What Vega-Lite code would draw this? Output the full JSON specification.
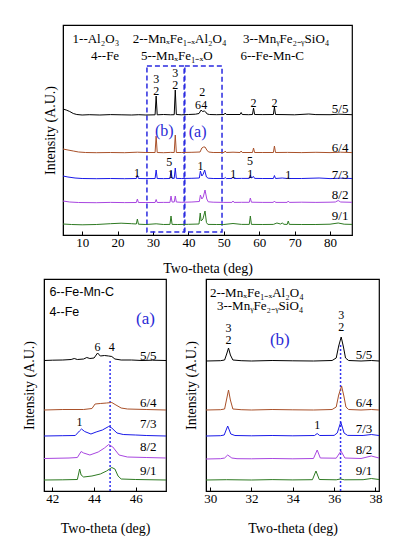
{
  "$schema": "https://vega.github.io/schema/vega-lite/v6.json",
  "background": "white",
  "padding": {"left": 21, "top": 22, "right": 4, "bottom": 4},
  "spacing": 2,
  "config": {
    "view": {"stroke": "#000", "strokeWidth": 1.2},
    "axis": {"grid": false, "domainColor": "#000", "tickColor": "#000", "labelColor": "#000", "titleColor": "#000", "labelFont": "Liberation Serif", "titleFont": "Liberation Serif", "titleFontWeight": "normal", "labelFontSize": 13, "titleFontSize": 14},
    "axisY": {"labels": false, "ticks": false, "titlePadding": 8},
    "axisX": {"tickSize": -4, "labelPadding": 5, "titlePadding": 12, "labelFlush": false},
    "text": {"font": "Liberation Serif", "fontSize": 13, "color": "#000"},
    "line": {"strokeWidth": 1}
  },
  "datasets": {
    "top": [
      {"s":"5/5","x":4.6,"y":126},{"s":"5/5","x":5.5,"y":125},{"s":"5/5","x":6.5,"y":123.5},{"s":"5/5","x":7.5,"y":121.5},{"s":"5/5","x":8.5,"y":120.5},{"s":"5/5","x":10,"y":120},{"s":"5/5","x":12,"y":120.3},{"s":"5/5","x":15,"y":120},{"s":"5/5","x":18,"y":120.4},{"s":"5/5","x":21,"y":120.2},{"s":"5/5","x":24,"y":120},{"s":"5/5","x":26,"y":120.3},{"s":"5/5","x":28,"y":120},{"s":"5/5","x":30.6,"y":120.2},{"s":"5/5","x":30.9,"y":139},{"s":"5/5","x":31.2,"y":120.2},{"s":"5/5","x":33,"y":120.5},{"s":"5/5","x":35,"y":120.2},{"s":"5/5","x":36.0,"y":120.3},{"s":"5/5","x":36.3,"y":145},{"s":"5/5","x":36.6,"y":120.5},{"s":"5/5","x":38,"y":120.2},{"s":"5/5","x":40,"y":120.5},{"s":"5/5","x":42,"y":120.8},{"s":"5/5","x":43.0,"y":121.5},{"s":"5/5","x":43.6,"y":125},{"s":"5/5","x":44.0,"y":123.5},{"s":"5/5","x":44.5,"y":124},{"s":"5/5","x":44.9,"y":123},{"s":"5/5","x":45.3,"y":121},{"s":"5/5","x":46,"y":120.5},{"s":"5/5","x":48,"y":120.3},{"s":"5/5","x":50.1,"y":120.5},{"s":"5/5","x":50.4,"y":122},{"s":"5/5","x":50.7,"y":120.5},{"s":"5/5","x":52.6,"y":120.5},{"s":"5/5","x":54.6,"y":120.5},{"s":"5/5","x":54.9,"y":122.5},{"s":"5/5","x":55.2,"y":120.5},{"s":"5/5","x":57,"y":120.3},{"s":"5/5","x":58.1,"y":120.5},{"s":"5/5","x":58.4,"y":127},{"s":"5/5","x":58.7,"y":120.5},{"s":"5/5","x":61,"y":120.4},{"s":"5/5","x":64.0,"y":120.5},{"s":"5/5","x":64.3,"y":128},{"s":"5/5","x":64.6,"y":120.5},{"s":"5/5","x":67,"y":120.4},{"s":"5/5","x":70,"y":120.2},{"s":"5/5","x":74,"y":121},{"s":"5/5","x":76,"y":120.4},{"s":"5/5","x":80,"y":120.3},{"s":"5/5","x":82.5,"y":120.8},{"s":"5/5","x":86.2,"y":120.3},
      {"s":"6/4","x":4.6,"y":86},{"s":"6/4","x":6,"y":85},{"s":"6/4","x":7.5,"y":84},{"s":"6/4","x":9,"y":83},{"s":"6/4","x":11,"y":82.5},{"s":"6/4","x":14,"y":82.3},{"s":"6/4","x":18,"y":82.5},{"s":"6/4","x":22,"y":82.3},{"s":"6/4","x":25.6,"y":82.8},{"s":"6/4","x":28,"y":82.5},{"s":"6/4","x":30.6,"y":82.5},{"s":"6/4","x":30.9,"y":99},{"s":"6/4","x":31.2,"y":82.5},{"s":"6/4","x":33,"y":82.3},{"s":"6/4","x":35,"y":82.6},{"s":"6/4","x":36.0,"y":82.5},{"s":"6/4","x":36.3,"y":100},{"s":"6/4","x":36.6,"y":82.5},{"s":"6/4","x":38,"y":82.5},{"s":"6/4","x":41,"y":82.7},{"s":"6/4","x":43.3,"y":83},{"s":"6/4","x":43.8,"y":87},{"s":"6/4","x":44.3,"y":88},{"s":"6/4","x":44.7,"y":88},{"s":"6/4","x":45.2,"y":85},{"s":"6/4","x":45.7,"y":83},{"s":"6/4","x":47,"y":82.5},{"s":"6/4","x":50.1,"y":82.5},{"s":"6/4","x":50.4,"y":84},{"s":"6/4","x":50.7,"y":82.5},{"s":"6/4","x":52.6,"y":82.8},{"s":"6/4","x":54.6,"y":82.5},{"s":"6/4","x":54.9,"y":84},{"s":"6/4","x":55.2,"y":82.5},{"s":"6/4","x":58.1,"y":82.5},{"s":"6/4","x":58.4,"y":87},{"s":"6/4","x":58.7,"y":82.5},{"s":"6/4","x":61,"y":82.5},{"s":"6/4","x":64.0,"y":82.5},{"s":"6/4","x":64.3,"y":89},{"s":"6/4","x":64.6,"y":82.5},{"s":"6/4","x":68,"y":82.6},{"s":"6/4","x":72,"y":82.4},{"s":"6/4","x":76,"y":82.7},{"s":"6/4","x":80,"y":82.4},{"s":"6/4","x":83,"y":82.8},{"s":"6/4","x":86.2,"y":82.4},
      {"s":"7/3","x":4.6,"y":59},{"s":"7/3","x":6,"y":58},{"s":"7/3","x":8,"y":57},{"s":"7/3","x":10,"y":56.5},{"s":"7/3","x":14,"y":56.3},{"s":"7/3","x":18,"y":56.5},{"s":"7/3","x":22,"y":56.3},{"s":"7/3","x":25.3,"y":56.5},{"s":"7/3","x":25.6,"y":60},{"s":"7/3","x":25.9,"y":56.5},{"s":"7/3","x":28,"y":56.4},{"s":"7/3","x":30.6,"y":56.5},{"s":"7/3","x":30.9,"y":65},{"s":"7/3","x":31.2,"y":56.5},{"s":"7/3","x":33,"y":56.4},{"s":"7/3","x":34.8,"y":56.5},{"s":"7/3","x":35.1,"y":64},{"s":"7/3","x":35.4,"y":56.6},{"s":"7/3","x":36.0,"y":56.6},{"s":"7/3","x":36.3,"y":67},{"s":"7/3","x":36.6,"y":56.6},{"s":"7/3","x":38,"y":56.5},{"s":"7/3","x":41,"y":56.7},{"s":"7/3","x":43.1,"y":57},{"s":"7/3","x":43.4,"y":64},{"s":"7/3","x":43.8,"y":59},{"s":"7/3","x":44.2,"y":61},{"s":"7/3","x":44.6,"y":65},{"s":"7/3","x":45.1,"y":58},{"s":"7/3","x":45.6,"y":56.8},{"s":"7/3","x":47,"y":56.5},{"s":"7/3","x":50.1,"y":56.5},{"s":"7/3","x":50.4,"y":57.5},{"s":"7/3","x":50.7,"y":56.5},{"s":"7/3","x":52.3,"y":56.5},{"s":"7/3","x":52.6,"y":58},{"s":"7/3","x":52.9,"y":56.5},{"s":"7/3","x":55,"y":56.6},{"s":"7/3","x":57.2,"y":56.6},{"s":"7/3","x":57.5,"y":60},{"s":"7/3","x":57.8,"y":57},{"s":"7/3","x":58.4,"y":58.5},{"s":"7/3","x":58.7,"y":56.6},{"s":"7/3","x":61,"y":56.5},{"s":"7/3","x":64.0,"y":56.5},{"s":"7/3","x":64.3,"y":59.5},{"s":"7/3","x":64.6,"y":56.5},{"s":"7/3","x":66.5,"y":57},{"s":"7/3","x":67.9,"y":56.5},{"s":"7/3","x":68.2,"y":57.5},{"s":"7/3","x":68.5,"y":56.5},{"s":"7/3","x":72,"y":56.5},{"s":"7/3","x":76.9,"y":57},{"s":"7/3","x":80,"y":56.4},{"s":"7/3","x":83,"y":56.8},{"s":"7/3","x":86.2,"y":56.5},
      {"s":"8/2","x":4.6,"y":34},{"s":"8/2","x":6.5,"y":33},{"s":"8/2","x":9,"y":32.5},{"s":"8/2","x":14,"y":32.3},{"s":"8/2","x":18,"y":32.6},{"s":"8/2","x":22,"y":32.4},{"s":"8/2","x":25.3,"y":32.5},{"s":"8/2","x":25.6,"y":36},{"s":"8/2","x":25.9,"y":32.5},{"s":"8/2","x":28,"y":32.5},{"s":"8/2","x":30.6,"y":32.5},{"s":"8/2","x":30.9,"y":35.5},{"s":"8/2","x":31.2,"y":32.5},{"s":"8/2","x":33,"y":32.6},{"s":"8/2","x":34.8,"y":32.6},{"s":"8/2","x":35.1,"y":39},{"s":"8/2","x":35.4,"y":33},{"s":"8/2","x":36.0,"y":33},{"s":"8/2","x":36.3,"y":39},{"s":"8/2","x":36.6,"y":33},{"s":"8/2","x":38,"y":32.7},{"s":"8/2","x":41,"y":33},{"s":"8/2","x":43.1,"y":33.5},{"s":"8/2","x":43.4,"y":40},{"s":"8/2","x":43.8,"y":36},{"s":"8/2","x":44.2,"y":38},{"s":"8/2","x":44.7,"y":45},{"s":"8/2","x":45.2,"y":36},{"s":"8/2","x":45.6,"y":33.2},{"s":"8/2","x":47,"y":32.8},{"s":"8/2","x":50,"y":32.6},{"s":"8/2","x":52.3,"y":32.6},{"s":"8/2","x":52.6,"y":34},{"s":"8/2","x":52.9,"y":32.6},{"s":"8/2","x":55,"y":32.7},{"s":"8/2","x":57.2,"y":32.7},{"s":"8/2","x":57.5,"y":37},{"s":"8/2","x":57.8,"y":32.8},{"s":"8/2","x":61,"y":32.6},{"s":"8/2","x":64.0,"y":32.6},{"s":"8/2","x":64.3,"y":34},{"s":"8/2","x":64.6,"y":32.6},{"s":"8/2","x":67.9,"y":32.6},{"s":"8/2","x":68.2,"y":34},{"s":"8/2","x":68.5,"y":32.6},{"s":"8/2","x":72,"y":32.8},{"s":"8/2","x":76,"y":32.6},{"s":"8/2","x":80,"y":32.8},{"s":"8/2","x":81.5,"y":33},{"s":"8/2","x":82.3,"y":34.5},{"s":"8/2","x":83,"y":33},{"s":"8/2","x":86.2,"y":32.7},
      {"s":"9/1","x":4.6,"y":11},{"s":"9/1","x":7,"y":10.5},{"s":"9/1","x":10,"y":10.2},{"s":"9/1","x":14,"y":10.5},{"s":"9/1","x":18,"y":11.3},{"s":"9/1","x":21,"y":11.8},{"s":"9/1","x":24,"y":11.3},{"s":"9/1","x":25.3,"y":11},{"s":"9/1","x":25.6,"y":16},{"s":"9/1","x":25.9,"y":10.8},{"s":"9/1","x":28,"y":10.5},{"s":"9/1","x":30.9,"y":11.2},{"s":"9/1","x":33,"y":10.5},{"s":"9/1","x":34.8,"y":10.6},{"s":"9/1","x":35.1,"y":19},{"s":"9/1","x":35.4,"y":10.6},{"s":"9/1","x":37,"y":10.5},{"s":"9/1","x":40,"y":10.7},{"s":"9/1","x":43.0,"y":11},{"s":"9/1","x":43.35,"y":22},{"s":"9/1","x":43.6,"y":14},{"s":"9/1","x":44.1,"y":16},{"s":"9/1","x":44.7,"y":24},{"s":"9/1","x":45.1,"y":12.5},{"s":"9/1","x":45.5,"y":10.6},{"s":"9/1","x":48,"y":10.5},{"s":"9/1","x":50,"y":10.5},{"s":"9/1","x":52.6,"y":11.5},{"s":"9/1","x":55,"y":10.6},{"s":"9/1","x":57.2,"y":10.6},{"s":"9/1","x":57.5,"y":19},{"s":"9/1","x":57.8,"y":10.6},{"s":"9/1","x":61,"y":10.5},{"s":"9/1","x":64,"y":10.6},{"s":"9/1","x":65,"y":12},{"s":"9/1","x":66,"y":11},{"s":"9/1","x":66.5,"y":12},{"s":"9/1","x":67,"y":10.7},{"s":"9/1","x":67.9,"y":10.6},{"s":"9/1","x":68.2,"y":14},{"s":"9/1","x":68.5,"y":10.6},{"s":"9/1","x":72,"y":10.5},{"s":"9/1","x":76,"y":10.5},{"s":"9/1","x":80,"y":10.8},{"s":"9/1","x":82.3,"y":12},{"s":"9/1","x":84,"y":10.8},{"s":"9/1","x":86.2,"y":10.6}
    ],
    "topPeak": [
      {"x":30.9,"y":156,"t":"3"},{"x":30.9,"y":144,"t":"2"},{"x":36.3,"y":162,"t":"3"},{"x":36.3,"y":150,"t":"2"},{"x":43.9,"y":143,"t":"2"},{"x":42.7,"y":130,"t":"6"},{"x":44.5,"y":130,"t":"4"},{"x":58.4,"y":132,"t":"2"},{"x":64.3,"y":132,"t":"2"},
      {"x":25.5,"y":62,"t":"1"},{"x":34.6,"y":73,"t":"5"},{"x":35.1,"y":61,"t":"1"},{"x":43.4,"y":69,"t":"1"},{"x":52.7,"y":61,"t":"1"},{"x":57.4,"y":74,"t":"5"},{"x":57.5,"y":61,"t":"1"},{"x":68.2,"y":60,"t":"1"}
    ],
    "topRow": [
      {"x":85.2,"y":126,"t":"5/5"},{"x":85.2,"y":87,"t":"6/4"},{"x":85.2,"y":60,"t":"7/3"},{"x":85.2,"y":40,"t":"8/2"},{"x":85.2,"y":19,"t":"9/1"}
    ],
    "topLeg": [
      {"x":7.3,"y":196,"t":"1--Al₂O₃"},{"x":24.3,"y":196,"t":"2--MnₓFe₁₋ₓAl₂O₄"},{"x":55.4,"y":196,"t":"3--MnᵧFe₂₋ᵧSiO₄"},
      {"x":12.5,"y":179,"t":"4--Fe"},{"x":26.6,"y":179,"t":"5--MnₓFe₁₋ₓO"},{"x":54.7,"y":179,"t":"6--Fe-Mn-C"}
    ],
    "topBlue": [{"x":33.2,"y":104,"t":"(b)"},{"x":42.6,"y":103,"t":"(a)"}],
    "topBox": [{"x":28.3,"x2":38.8,"y":3,"y2":169},{"x":39.0,"x2":49.5,"y":3,"y2":169}],
    "bl": [
      {"s":"5/5","x":41.6,"y":130.5},{"s":"5/5","x":42.0,"y":130.8},{"s":"5/5","x":42.5,"y":131},{"s":"5/5","x":42.9,"y":131.5},{"s":"5/5","x":43.05,"y":132.5},{"s":"5/5","x":43.2,"y":131.5},{"s":"5/5","x":43.5,"y":132},{"s":"5/5","x":43.65,"y":133.5},{"s":"5/5","x":43.8,"y":132.5},{"s":"5/5","x":44.0,"y":133},{"s":"5/5","x":44.17,"y":138},{"s":"5/5","x":44.3,"y":135},{"s":"5/5","x":44.5,"y":135.5},{"s":"5/5","x":44.7,"y":135},{"s":"5/5","x":44.85,"y":134.5},{"s":"5/5","x":45.0,"y":132},{"s":"5/5","x":45.3,"y":131},{"s":"5/5","x":45.8,"y":131},{"s":"5/5","x":46.3,"y":130.5},{"s":"5/5","x":46.8,"y":130.8},{"s":"5/5","x":47.45,"y":130.5},
      {"s":"6/4","x":41.6,"y":81},{"s":"6/4","x":42.5,"y":81.5},{"s":"6/4","x":43.5,"y":81.5},{"s":"6/4","x":43.9,"y":82.5},{"s":"6/4","x":44.05,"y":87},{"s":"6/4","x":44.3,"y":87.5},{"s":"6/4","x":44.6,"y":88},{"s":"6/4","x":44.85,"y":88.5},{"s":"6/4","x":45.05,"y":86},{"s":"6/4","x":45.3,"y":83},{"s":"6/4","x":45.6,"y":82},{"s":"6/4","x":46.5,"y":81.5},{"s":"6/4","x":47.45,"y":81},
      {"s":"7/3","x":41.6,"y":55},{"s":"7/3","x":42.5,"y":55.3},{"s":"7/3","x":43.1,"y":55.5},{"s":"7/3","x":43.3,"y":60},{"s":"7/3","x":43.4,"y":62},{"s":"7/3","x":43.55,"y":59.5},{"s":"7/3","x":43.85,"y":57},{"s":"7/3","x":44.1,"y":59},{"s":"7/3","x":44.4,"y":61},{"s":"7/3","x":44.7,"y":64.5},{"s":"7/3","x":44.85,"y":63},{"s":"7/3","x":45.1,"y":58},{"s":"7/3","x":45.4,"y":56.5},{"s":"7/3","x":46,"y":56},{"s":"7/3","x":46.5,"y":55.5},{"s":"7/3","x":47.45,"y":55},
      {"s":"8/2","x":41.6,"y":32.5},{"s":"8/2","x":42.8,"y":33},{"s":"8/2","x":43.2,"y":33.5},{"s":"8/2","x":43.38,"y":39.5},{"s":"8/2","x":43.5,"y":38},{"s":"8/2","x":43.8,"y":36},{"s":"8/2","x":44.2,"y":39},{"s":"8/2","x":44.5,"y":43},{"s":"8/2","x":44.7,"y":46.5},{"s":"8/2","x":44.9,"y":44},{"s":"8/2","x":45.2,"y":36},{"s":"8/2","x":45.6,"y":34},{"s":"8/2","x":46.5,"y":33.5},{"s":"8/2","x":47.45,"y":33},
      {"s":"9/1","x":41.6,"y":11},{"s":"9/1","x":42.5,"y":11.2},{"s":"9/1","x":43.2,"y":11.5},{"s":"9/1","x":43.31,"y":22},{"s":"9/1","x":43.38,"y":16},{"s":"9/1","x":43.5,"y":14},{"s":"9/1","x":43.9,"y":15},{"s":"9/1","x":44.3,"y":17},{"s":"9/1","x":44.6,"y":20},{"s":"9/1","x":44.85,"y":23.5},{"s":"9/1","x":45.0,"y":22},{"s":"9/1","x":45.15,"y":15},{"s":"9/1","x":45.3,"y":12},{"s":"9/1","x":46,"y":11.5},{"s":"9/1","x":47.45,"y":11}
    ],
    "blPeak": [{"x":44.17,"y":144,"t":"6"},{"x":44.85,"y":144,"t":"4"},{"x":43.3,"y":69,"t":"1"}],
    "blRow": [{"x":47.0,"y":135,"t":"5/5"},{"x":47.0,"y":88,"t":"6/4"},{"x":47.0,"y":67,"t":"7/3"},{"x":47.0,"y":44,"t":"8/2"},{"x":47.0,"y":20,"t":"9/1"}],
    "blLeg": [{"x":41.86,"y":199,"t":"6--Fe-Mn-C"},{"x":41.86,"y":179,"t":"4--Fe"}],
    "blBlue": [{"x":46.47,"y":172,"t":"(a)"}],
    "blRule": [{"x":44.77,"y":0,"y2":132}],
    "br": [
      {"s":"5/5","x":29.8,"y":130},{"s":"5/5","x":30.5,"y":130.3},{"s":"5/5","x":30.7,"y":131},{"s":"5/5","x":30.8,"y":137},{"s":"5/5","x":30.89,"y":143},{"s":"5/5","x":30.98,"y":136},{"s":"5/5","x":31.1,"y":131},{"s":"5/5","x":31.5,"y":130.3},{"s":"5/5","x":32,"y":130},{"s":"5/5","x":33,"y":130.5},{"s":"5/5","x":34,"y":130.2},{"s":"5/5","x":35,"y":130},{"s":"5/5","x":35.9,"y":130.5},{"s":"5/5","x":36.1,"y":133},{"s":"5/5","x":36.22,"y":145},{"s":"5/5","x":36.34,"y":154},{"s":"5/5","x":36.45,"y":144},{"s":"5/5","x":36.55,"y":133},{"s":"5/5","x":36.7,"y":130.5},{"s":"5/5","x":37.3,"y":130},{"s":"5/5","x":37.8,"y":130.5},{"s":"5/5","x":38.17,"y":130},
      {"s":"6/4","x":29.8,"y":81},{"s":"6/4","x":30.5,"y":81.3},{"s":"6/4","x":30.7,"y":82},{"s":"6/4","x":30.8,"y":92},{"s":"6/4","x":30.89,"y":101},{"s":"6/4","x":30.98,"y":91},{"s":"6/4","x":31.1,"y":82},{"s":"6/4","x":31.5,"y":81.3},{"s":"6/4","x":32,"y":81},{"s":"6/4","x":33,"y":81.5},{"s":"6/4","x":34,"y":81.2},{"s":"6/4","x":35,"y":81},{"s":"6/4","x":35.9,"y":81.5},{"s":"6/4","x":36.1,"y":84},{"s":"6/4","x":36.22,"y":96},{"s":"6/4","x":36.36,"y":105},{"s":"6/4","x":36.47,"y":95},{"s":"6/4","x":36.57,"y":84},{"s":"6/4","x":36.7,"y":81.5},{"s":"6/4","x":37.3,"y":81},{"s":"6/4","x":37.8,"y":81.5},{"s":"6/4","x":38.17,"y":81},
      {"s":"7/3","x":29.8,"y":55},{"s":"7/3","x":30.5,"y":55.3},{"s":"7/3","x":30.68,"y":56},{"s":"7/3","x":30.85,"y":65},{"s":"7/3","x":31.0,"y":57},{"s":"7/3","x":31.2,"y":55.5},{"s":"7/3","x":32,"y":55.2},{"s":"7/3","x":33,"y":55.5},{"s":"7/3","x":34,"y":55.2},{"s":"7/3","x":35.05,"y":55.5},{"s":"7/3","x":35.18,"y":57.5},{"s":"7/3","x":35.3,"y":55.5},{"s":"7/3","x":36.0,"y":55.6},{"s":"7/3","x":36.15,"y":58},{"s":"7/3","x":36.32,"y":69},{"s":"7/3","x":36.48,"y":58},{"s":"7/3","x":36.65,"y":55.6},{"s":"7/3","x":37.4,"y":55.5},{"s":"7/3","x":37.8,"y":56.5},{"s":"7/3","x":38.17,"y":55.5},
      {"s":"8/2","x":29.8,"y":32},{"s":"8/2","x":30.5,"y":32.3},{"s":"8/2","x":30.7,"y":33},{"s":"8/2","x":30.85,"y":36},{"s":"8/2","x":31.05,"y":33},{"s":"8/2","x":31.3,"y":32.3},{"s":"8/2","x":32,"y":32.2},{"s":"8/2","x":33,"y":32.5},{"s":"8/2","x":34,"y":32.2},{"s":"8/2","x":35.0,"y":32.5},{"s":"8/2","x":35.18,"y":41},{"s":"8/2","x":35.33,"y":33},{"s":"8/2","x":36.1,"y":32.8},{"s":"8/2","x":36.33,"y":40},{"s":"8/2","x":36.52,"y":33},{"s":"8/2","x":37.3,"y":32.5},{"s":"8/2","x":37.8,"y":35},{"s":"8/2","x":38.17,"y":33},
      {"s":"9/1","x":29.8,"y":11},{"s":"9/1","x":30.8,"y":11.3},{"s":"9/1","x":32,"y":11},{"s":"9/1","x":33,"y":11.4},{"s":"9/1","x":34,"y":11.1},{"s":"9/1","x":34.95,"y":11.3},{"s":"9/1","x":35.12,"y":20},{"s":"9/1","x":35.28,"y":11.5},{"s":"9/1","x":36.1,"y":11.2},{"s":"9/1","x":36.3,"y":12},{"s":"9/1","x":36.5,"y":11.2},{"s":"9/1","x":37.4,"y":11.3},{"s":"9/1","x":37.8,"y":12.5},{"s":"9/1","x":38.17,"y":11.5}
    ],
    "brPeak": [{"x":30.89,"y":163,"t":"3"},{"x":30.89,"y":151,"t":"2"},{"x":36.34,"y":176,"t":"3"},{"x":36.34,"y":164,"t":"2"},{"x":35.18,"y":66,"t":"1"}],
    "brRow": [{"x":37.85,"y":136,"t":"5/5"},{"x":37.85,"y":88,"t":"6/4"},{"x":37.85,"y":62,"t":"7/3"},{"x":37.85,"y":41,"t":"8/2"},{"x":37.85,"y":20,"t":"9/1"}],
    "brLeg": [{"x":29.99,"y":198,"t":"2--MnₓFe₁₋ₓAl₂O₄"},{"x":30.33,"y":185,"t":"3--MnᵧFe₂₋ᵧSiO₄"}],
    "brBlue": [{"x":33.37,"y":151,"t":"(b)"}],
    "brRule": [{"x":36.31,"y":0,"y2":148}]
  },
  "vconcat": [
    {
      "spacing": -6,
      "hconcat": [
        {"width": 1, "height": 1, "view": {"stroke": null}, "data": {"values": [{}]}, "mark": {"type": "point", "opacity": 0}},
        {
          "width": 289, "height": 210,
          "encoding": {
            "x": {"field": "x", "type": "quantitative", "scale": {"domain": [4.6, 86.2], "nice": false, "zero": false}, "axis": {"title": "Two-theta (deg)", "values": [10,20,30,40,50,60,70,80]}},
            "y": {"field": "y", "type": "quantitative", "scale": {"domain": [0, 210], "nice": false}, "axis": {"title": "Intensity (A.U.)", "titlePadding": 6}}
          },
          "layer": [
            {"data": {"name": "topBox"}, "mark": {"type": "rect", "filled": false, "stroke": "#2a2ae0", "strokeWidth": 1.5, "strokeDash": [5, 3]}, "encoding": {"x2": {"field": "x2"}, "y2": {"field": "y2"}}},
            {"data": {"name": "top"}, "mark": {"type": "line"}, "encoding": {"color": {"field": "s", "type": "nominal", "legend": null, "scale": {"domain": ["5/5","6/4","7/3","8/2","9/1"], "range": ["#000000","#a9512a","#1a1ae8","#a846e0","#2e7a22"]}}}},
            {"data": {"name": "topPeak"}, "mark": {"type": "text", "fontSize": 12, "baseline": "middle"}, "encoding": {"text": {"field": "t"}}},
            {"data": {"name": "topRow"}, "mark": {"type": "text", "align": "right", "baseline": "middle"}, "encoding": {"text": {"field": "t"}}},
            {"data": {"name": "topLeg"}, "mark": {"type": "text", "align": "left", "baseline": "middle"}, "encoding": {"text": {"field": "t"}}},
            {"data": {"name": "topBlue"}, "mark": {"type": "text", "fontSize": 16, "color": "#2a2ad6", "baseline": "middle"}, "encoding": {"text": {"field": "t"}}}
          ]
        }
      ]
    },
    {
      "spacing": 14,
      "hconcat": [
        {
          "width": 122, "height": 212,
          "encoding": {
            "x": {"field": "x", "type": "quantitative", "scale": {"domain": [41.6, 47.45], "nice": false, "zero": false}, "axis": {"title": "Two-theta (deg)", "values": [42, 44, 46], "titlePadding": 16}},
            "y": {"field": "y", "type": "quantitative", "scale": {"domain": [0, 212], "nice": false}, "axis": {"title": "Intensity (A.U.)"}}
          },
          "layer": [
            {"data": {"name": "blRule"}, "mark": {"type": "rule", "stroke": "#3030f0", "strokeWidth": 1.5, "strokeDash": [2, 2]}, "encoding": {"y2": {"field": "y2"}}},
            {"data": {"name": "bl"}, "mark": {"type": "line"}, "encoding": {"color": {"field": "s", "type": "nominal", "legend": null, "scale": {"domain": ["5/5","6/4","7/3","8/2","9/1"], "range": ["#000000","#a9512a","#1a1ae8","#a846e0","#2e7a22"]}}}},
            {"data": {"name": "blPeak"}, "mark": {"type": "text", "fontSize": 12, "baseline": "middle"}, "encoding": {"text": {"field": "t"}}},
            {"data": {"name": "blRow"}, "mark": {"type": "text", "align": "right", "baseline": "middle"}, "encoding": {"text": {"field": "t"}}},
            {"data": {"name": "blLeg"}, "mark": {"type": "text", "align": "left", "baseline": "middle", "font": "Liberation Sans", "fontSize": 12.5}, "encoding": {"text": {"field": "t"}}},
            {"data": {"name": "blBlue"}, "mark": {"type": "text", "fontSize": 17, "color": "#2a2ad6", "baseline": "middle"}, "encoding": {"text": {"field": "t"}}}
          ]
        },
        {
          "width": 173, "height": 212,
          "encoding": {
            "x": {"field": "x", "type": "quantitative", "scale": {"domain": [29.8, 38.17], "nice": false, "zero": false}, "axis": {"title": "Two-theta (deg)", "values": [30, 32, 34, 36, 38], "titlePadding": 16}},
            "y": {"field": "y", "type": "quantitative", "scale": {"domain": [0, 212], "nice": false}, "axis": {"title": "Intensity (A.U.)"}}
          },
          "layer": [
            {"data": {"name": "brRule"}, "mark": {"type": "rule", "stroke": "#3030f0", "strokeWidth": 1.5, "strokeDash": [2, 2]}, "encoding": {"y2": {"field": "y2"}}},
            {"data": {"name": "br"}, "mark": {"type": "line"}, "encoding": {"color": {"field": "s", "type": "nominal", "legend": null, "scale": {"domain": ["5/5","6/4","7/3","8/2","9/1"], "range": ["#000000","#a9512a","#1a1ae8","#a846e0","#2e7a22"]}}}},
            {"data": {"name": "brPeak"}, "mark": {"type": "text", "fontSize": 12, "baseline": "middle"}, "encoding": {"text": {"field": "t"}}},
            {"data": {"name": "brRow"}, "mark": {"type": "text", "align": "right", "baseline": "middle"}, "encoding": {"text": {"field": "t"}}},
            {"data": {"name": "brLeg"}, "mark": {"type": "text", "align": "left", "baseline": "middle"}, "encoding": {"text": {"field": "t"}}},
            {"data": {"name": "brBlue"}, "mark": {"type": "text", "fontSize": 17, "color": "#2a2ad6", "baseline": "middle"}, "encoding": {"text": {"field": "t"}}}
          ]
        }
      ]
    }
  ]
}
